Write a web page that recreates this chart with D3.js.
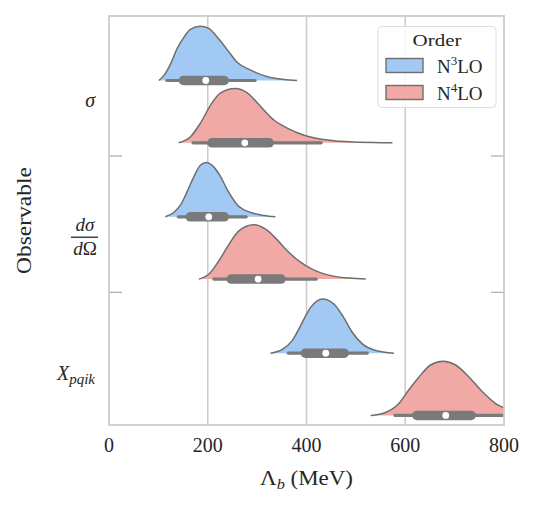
<!DOCTYPE html>
<html><head><meta charset="utf-8">
<script src="https://cdn.jsdelivr.net/npm/d3@7"></script>
<style>
html,body{margin:0;padding:0;background:#fff;}
svg{display:block;font-family:"Liberation Serif","DejaVu Serif",serif;}
</style></head>
<body><svg id="chart" width="536" height="507"></svg>
<script>
// ---------------- data ----------------
const categories = ["sigma", "dsigma", "Xpqik"];
const orders = ["N3LO", "N4LO"];
const xTicks = [0, 200, 400, 600, 800];

// one entry per violin: category / order
const violinCategory = ["sigma", "sigma", "dsigma", "dsigma", "Xpqik", "Xpqik"];
const violinOrder    = ["N3LO", "N4LO", "N3LO", "N4LO", "N3LO", "N4LO"];

// density profiles (Λb in MeV, relative density)
const lambdaSigmaN3 = [101,111,125,138,152,165,185,202,219,240,260,287,321,354,381];
const densSigmaN3   = [0,0.09,0.31,0.59,0.80,0.94,1.0,0.96,0.80,0.56,0.33,0.19,0.07,0.02,0];
const lambdaSigmaN4 = [141,165,185,206,226,256,280,307,334,361,395,442,496,550,574];
const densSigmaN4   = [0,0.11,0.36,0.70,0.92,1.0,0.92,0.67,0.42,0.27,0.14,0.05,0.013,0.003,0];
const lambdaDsigN3  = [114,131,145,158,172,185,197,212,226,240,260,287,314,337];
const densDsigN3    = [0,0.08,0.22,0.46,0.74,0.95,1.0,0.92,0.74,0.49,0.22,0.08,0.024,0];
const lambdaDsigN4  = [182,202,222,243,263,293,317,337,358,385,412,445,486,520];
const densDsigN4    = [0,0.09,0.33,0.64,0.89,1,0.92,0.76,0.55,0.33,0.18,0.074,0.019,0];
const lambdaXN3     = [327,351,371,391,408,433,456,473,493,513,540,577];
const densXN3       = [0,0.07,0.23,0.56,0.84,1,0.90,0.69,0.38,0.17,0.05,0];
const lambdaXN4     = [530,560,587,607,628,651,676,702,729,756,783,803,830,860,890];
const densXN4       = [0,0.055,0.22,0.47,0.71,0.93,1,0.93,0.71,0.44,0.22,0.13,0.06,0.02,0];

const violinLambda  = [lambdaSigmaN3, lambdaSigmaN4, lambdaDsigN3, lambdaDsigN4, lambdaXN3, lambdaXN4];
const violinDensity = [densSigmaN3, densSigmaN4, densDsigN3, densDsigN4, densXN3, densXN4];

// box statistics (MeV)
const whiskerLow  = [114, 167, 137, 209, 360, 576];
const quartile1   = [141, 199, 155, 238, 388, 614];
const medians     = [196, 275, 202, 302, 439, 682];
const quartile3   = [243, 334, 243, 358, 486, 743];
const whiskerHigh = [299, 433, 281, 423, 526, 860];

// ---------------- layout ----------------
const svg = d3.select("#chart");
const L = 109, R = 504, T = 16, B = 425;
const colors = {N3LO: "#a1c9f4", N4LO: "#f1a9a5"};
const lineGray = "#6e6e6e", boxGray = "#7a7a7a", frameGray = "#cccccc", textCol = "#262626";
const boxW = 9.5, whiskW = 3.2;

const x = d3.scaleLinear().domain([0, 800]).range([L, R]);
const yCat = d3.scaleBand().domain(categories).range([T, B]).paddingInner(0).paddingOuter(0);
const bw = yCat.bandwidth();
const yOrd = d3.scalePoint().domain(orders).range([0.473 * bw, 0.93 * bw]);
const h = d3.scaleLinear().domain([0, 1]).range([0, 0.398 * bw]);

// grid lines
svg.append("g").selectAll("line").data(xTicks.filter(t => t > 0 && t < 800)).join("line")
  .attr("x1", d => x(d)).attr("x2", d => x(d)).attr("y1", T).attr("y2", B)
  .attr("stroke", frameGray).attr("stroke-width", 1.6);

// y tick marks (category separators) on both sides
const sepData = categories.slice(1);
const sepY = d => yCat(d) + 3.7;
svg.append("g").selectAll("line").data(sepData).join("line")
  .attr("x1", L).attr("x2", L + 13).attr("y1", sepY).attr("y2", sepY)
  .attr("stroke", "#b0b0b0").attr("stroke-width", 1.3);
svg.append("g").selectAll("line").data(sepData).join("line")
  .attr("x1", R - 13).attr("x2", R).attr("y1", sepY).attr("y2", sepY)
  .attr("stroke", "#b0b0b0").attr("stroke-width", 1.3);

// clip
svg.append("clipPath").attr("id", "clip").append("rect")
  .attr("x", L).attr("y", T).attr("width", R - L).attr("height", B - T);

const plot = svg.append("g").attr("clip-path", "url(#clip)");

violinCategory.forEach((cat, i) => {
  const base = yCat(cat) + yOrd(violinOrder[i]);
  const pts = violinLambda[i].map((v, j) => [v, violinDensity[i][j]]);
  const area = d3.area().curve(d3.curveMonotoneX)
    .x(d => x(d[0])).y0(base).y1(d => base - h(d[1]));
  const line = d3.line().curve(d3.curveMonotoneX)
    .x(d => x(d[0])).y(d => base - h(d[1]));
  plot.append("path").attr("d", area(pts)).attr("fill", colors[violinOrder[i]]).attr("stroke", "none");
  plot.append("path").attr("d", line(pts)).attr("fill", "none")
    .attr("stroke", lineGray).attr("stroke-width", 1.5);
  // whisker (round caps included in the visible extent)
  plot.append("line").attr("x1", x(whiskerLow[i]) + whiskW / 2).attr("x2", x(whiskerHigh[i]) - whiskW / 2)
    .attr("y1", base).attr("y2", base).attr("stroke", boxGray)
    .attr("stroke-width", whiskW).attr("stroke-linecap", "round");
  // box
  plot.append("line").attr("x1", x(quartile1[i]) + boxW / 2).attr("x2", x(quartile3[i]) - boxW / 2)
    .attr("y1", base).attr("y2", base).attr("stroke", boxGray)
    .attr("stroke-width", boxW).attr("stroke-linecap", "round");
  // median
  plot.append("circle").attr("cx", x(medians[i])).attr("cy", base).attr("r", 3.4)
    .attr("fill", "#ffffff");
});

// frame
svg.append("rect").attr("x", L).attr("y", T).attr("width", R - L).attr("height", B - T)
  .attr("fill", "none").attr("stroke", frameGray).attr("stroke-width", 1.8);

// x tick labels
svg.append("g").selectAll("text").data(xTicks).join("text")
  .attr("x", d => x(d)).attr("y", 452).attr("text-anchor", "middle")
  .attr("font-size", 20).attr("fill", textCol).text(d => d);

// x axis title
const xt = svg.append("text").attr("x", x(400)).attr("y", 485).attr("text-anchor", "middle")
  .attr("font-size", 21).attr("fill", textCol).attr("textLength", 93).attr("lengthAdjust", "spacingAndGlyphs");
xt.append("tspan").text("Λ");
xt.append("tspan").attr("font-style", "italic").attr("font-size", 15).attr("dy", 4).text("b");
xt.append("tspan").attr("dy", -4).text(" (MeV)");

// y axis title
svg.append("text").attr("transform", `translate(31,${(T + B) / 2}) rotate(-90)`)
  .attr("text-anchor", "middle").attr("font-size", 21).attr("fill", textCol)
  .attr("textLength", 107).attr("lengthAdjust", "spacingAndGlyphs").text("Observable");

// y category labels
const labY = c => yCat(c) + 0.63 * bw;
svg.append("text").attr("x", 95).attr("y", labY("sigma") + 5).attr("text-anchor", "end")
  .attr("font-size", 20).attr("font-style", "italic").attr("fill", textCol).text("σ");

const fy = labY("dsigma") - 1;
const fr = svg.append("g").attr("fill", textCol).attr("font-size", 19);
const num = fr.append("text").attr("x", 85).attr("y", fy - 6).attr("text-anchor", "middle");
num.append("tspan").attr("font-style", "italic").text("d");
num.append("tspan").attr("font-style", "italic").text("σ");
fr.append("line").attr("x1", 71).attr("x2", 98).attr("y1", fy).attr("y2", fy)
  .attr("stroke", textCol).attr("stroke-width", 1.3);
const den = fr.append("text").attr("x", 85).attr("y", fy + 18).attr("text-anchor", "middle");
den.append("tspan").attr("font-style", "italic").text("d");
den.append("tspan").text("Ω");

const xl = svg.append("text").attr("x", 95).attr("y", labY("Xpqik") + 5).attr("text-anchor", "end")
  .attr("font-size", 20).attr("fill", textCol).attr("font-style", "italic");
xl.append("tspan").text("X");
xl.append("tspan").attr("font-size", 15).attr("dy", 4).text("pqik");

// legend
const lg = svg.append("g");
lg.append("rect").attr("x", 378).attr("y", 26.5).attr("width", 118).attr("height", 81)
  .attr("rx", 4).attr("fill", "#ffffff").attr("fill-opacity", 0.85)
  .attr("stroke", "#dddddd").attr("stroke-width", 1);
lg.append("text").attr("x", 437).attr("y", 46).attr("text-anchor", "middle")
  .attr("font-size", 17).attr("fill", textCol).attr("textLength", 49).attr("lengthAdjust", "spacingAndGlyphs").text("Order");
orders.forEach((o, i) => {
  const yy = 58.5 + i * 27;
  lg.append("rect").attr("x", 386).attr("y", yy).attr("width", 37).attr("height", 14)
    .attr("fill", colors[o]).attr("stroke", lineGray).attr("stroke-width", 1.4);
  const t = lg.append("text").attr("x", 437).attr("y", yy + 14).attr("font-size", 19).attr("fill", textCol);
  t.append("tspan").text("N");
  t.append("tspan").attr("font-size", 13).attr("dy", -8).text(i === 0 ? "3" : "4");
  t.append("tspan").attr("dy", 8).text("LO");
});
</script></body></html>
